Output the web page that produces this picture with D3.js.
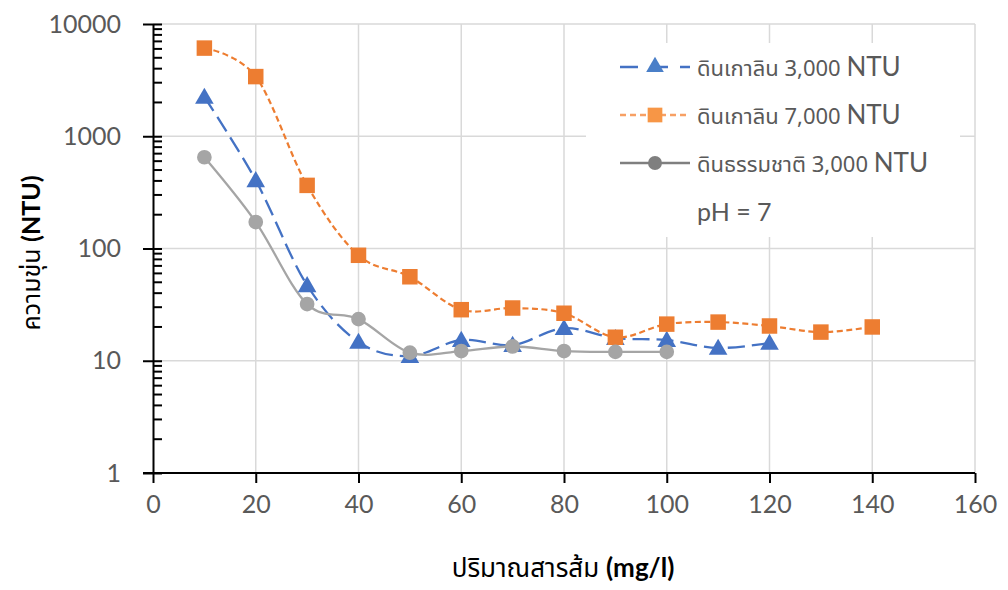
<!DOCTYPE html>
<html><head><meta charset="utf-8">
<script src="https://cdn.jsdelivr.net/npm/d3@7/dist/d3.min.js"></script>
<style>
body{margin:0;background:#fff;}
svg{display:block;}
</style></head>
<body><svg id="c" width="1008" height="590"></svg>
<script>
// ---- data ----
const xKaolin3000 = [10,20,30,40,50,60,70,80,90,100,110,120];
const yKaolin3000 = [2240,405,47,14.7,11,15.3,13.8,19.5,15.9,15.3,13,14.4];
const xKaolin7000 = [10,20,30,40,50,60,70,80,90,100,110,120,130,140];
const yKaolin7000 = [6100,3400,365,87,56,28.5,29.5,26.5,16.2,21.2,22.1,20.4,18,20];
const xNatural3000 = [10,20,30,40,50,60,70,80,90,100];
const yNatural3000 = [650,172,32,23.5,11.8,12.2,13.4,12.2,12,12];
const xTicks = [0,20,40,60,80,100,120,140,160];
const yTicks = [1,10,100,1000,10000];
const seriesNames = ["ดินเกาลิน 3,000", "ดินเกาลิน 7,000", "ดินธรรมชาติ 3,000"];
const seriesUnit = "NTU";
const noteText = "pH = 7";
const xTitle = "ปริมาณสารส้ม";
const xTitleUnit = "(mg/l)";
const yTitle = "ความขุ่น";
const yTitleUnit = "(NTU)";

const svg = d3.select("#c");
const L = 153, R = 975, T = 24, B = 473;
const x = d3.scaleLinear().domain([0,160]).range([L,R]);
const y = d3.scaleLog().domain([1,10000]).range([B,T]);
const numFont = "Lato, 'Open Sans', sans-serif";
const thaiFont = "'Noto Sans Thai', 'Noto Sans Thai UI', Tahoma, 'DejaVu Sans', sans-serif";

// gridlines
const grid = svg.append("g").attr("stroke","#d9d9d9").attr("stroke-width",1.5);
grid.selectAll(".v").data(xTicks.filter(d=>d>0)).join("line")
  .attr("x1",d=>x(d)).attr("x2",d=>x(d)).attr("y1",T).attr("y2",B);
grid.selectAll(".h").data(yTicks.filter(d=>d>1)).join("line")
  .attr("x1",L).attr("x2",R).attr("y1",d=>y(d)).attr("y2",d=>y(d));

// x axis
const xAxis = svg.append("g").attr("transform",`translate(0,${B})`)
  .call(d3.axisBottom(x).tickValues(xTicks).tickSize(10).tickPadding(12).tickSizeOuter(0));
xAxis.select(".domain").attr("stroke","#000").attr("stroke-width",2).attr("d",`M${L-10},0H${R}`);
xAxis.selectAll(".tick line").attr("stroke","#000").attr("stroke-width",2);
xAxis.selectAll(".tick text").attr("fill","#595959").attr("font-family",numFont).attr("font-size",25);

// y axis (major)
const yAxis = svg.append("g").attr("transform",`translate(${L},0)`)
  .call(d3.axisLeft(y).tickValues(yTicks).tickFormat(d3.format("d")).tickSize(10).tickPadding(22).tickSizeOuter(0));
yAxis.select(".domain").attr("stroke","#000").attr("stroke-width",2);
yAxis.selectAll(".tick line").attr("stroke","#000").attr("stroke-width",2).attr("x2",-10).attr("x1",9);
yAxis.selectAll(".tick text").attr("fill","#595959").attr("font-family",numFont).attr("font-size",25);
// minor ticks
const minors = [];
yTicks.slice(0,-1).forEach(d=>{for(let k=2;k<=9;k++) minors.push(d*k);});
svg.append("g").selectAll("line").data(minors).join("line")
  .attr("x1",L).attr("x2",L+9).attr("y1",d=>y(d)).attr("y2",d=>y(d))
  .attr("stroke","#000").attr("stroke-width",2);

// series
const series = [
  {xs:xKaolin3000, ys:yKaolin3000, color:"#4472c4", dash:"17,7", w:2.3, marker:"tri"},
  {xs:xKaolin7000, ys:yKaolin7000, color:"#ed7d31", dash:"6,3.5", w:2.2, marker:"sq"},
  {xs:xNatural3000, ys:yNatural3000, color:"#a5a5a5", dash:null, w:2.3, marker:"circ"}
];
const line = d3.line().x(d=>x(d[0])).y(d=>y(d[1])).curve(d3.curveCardinal.tension(0));
const sym = {tri:d3.symbolTriangle, sq:d3.symbolSquare, circ:d3.symbolCircle};
const symSize = {tri:150, sq:240, circ:170};
series.forEach(s=>{
  const pts = s.xs.map((v,i)=>[v,s.ys[i]]);
  svg.append("path").datum(pts).attr("d",line).attr("fill","none")
    .attr("stroke",s.color).attr("stroke-width",s.w)
    .attr("stroke-dasharray",s.dash);
});
series.forEach(s=>{
  const pts = s.xs.map((v,i)=>[v,s.ys[i]]);
  svg.append("g").selectAll("path").data(pts).join("path")
    .attr("transform",d=>`translate(${x(d[0])},${y(d[1])+(s.marker==="tri"?1.5:0)})`)
    .attr("d",d3.symbol(sym[s.marker],symSize[s.marker])).attr("fill",s.color);
});

// legend box
svg.append("rect").attr("x",586).attr("y",43).attr("width",374).attr("height",194).attr("fill","#fff");
const legColors = [
  {line:"#4472c4", mk:"#4a7fc8", dash:"18,12"},
  {line:"#f7a064", mk:"#f79646", dash:"6,4"},
  {line:"#7f7f7f", mk:"#7f7f7f", dash:null}
];
const legY = [67,115,163];
seriesNames.forEach((nm,i)=>{
  const g = svg.append("g").attr("transform",`translate(0,${legY[i]})`);
  g.append("line").attr("x1",620).attr("x2",690).attr("y1",0).attr("y2",0)
    .attr("stroke",legColors[i].line).attr("stroke-width",2.3)
    .attr("stroke-dasharray",legColors[i].dash);
  g.append("path").attr("transform","translate(655,0)")
    .attr("d",d3.symbol(sym[series[i].marker],symSize[series[i].marker]*0.9)).attr("fill",legColors[i].mk);
  const t = g.append("text").attr("x",697).attr("y",9).attr("fill","#595959");
  t.append("tspan").attr("font-family",thaiFont).attr("font-size",22).text(nm+" ");
  t.append("tspan").attr("font-family",numFont).attr("font-size",26).text(seriesUnit);
});
svg.append("text").attr("x",697).attr("y",221).attr("fill","#595959")
  .attr("font-family",numFont).attr("font-size",25).text(noteText);

// axis titles
const xt = svg.append("text").attr("x",563).attr("y",577).attr("text-anchor","middle").attr("fill","#000");
xt.append("tspan").attr("font-family",thaiFont).attr("font-size",26).text(xTitle+" ");
xt.append("tspan").attr("font-family",numFont).attr("font-size",26).attr("font-weight","bold").text(xTitleUnit);

const yt = svg.append("text").attr("transform","translate(40,253) rotate(-90)").attr("text-anchor","middle").attr("fill","#000");
yt.append("tspan").attr("font-family",thaiFont).attr("font-size",25).text(yTitle+" ");
yt.append("tspan").attr("font-family",numFont).attr("font-size",25).attr("font-weight","bold").text(yTitleUnit);
</script></body></html>
